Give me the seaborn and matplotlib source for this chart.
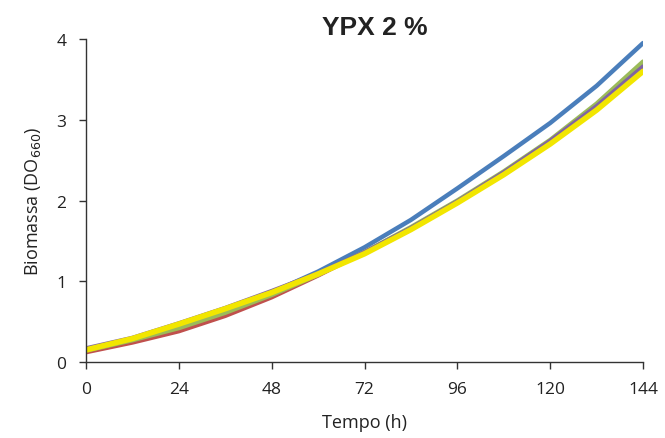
import matplotlib
matplotlib.use("Agg")
import matplotlib.pyplot as plt
import seaborn as sns
import pandas as pd

tempo = [0, 12, 24, 36, 48, 60, 72, 84, 96, 108, 120, 132, 144]
azul = [0.15, 0.28, 0.45, 0.64, 0.86, 1.12, 1.42, 1.76, 2.15, 2.55, 2.96, 3.42, 3.95]
vermelho = [0.12, 0.24, 0.38, 0.57, 0.80, 1.07, 1.36, 1.66, 1.99, 2.35, 2.74, 3.18, 3.66]
verde = [0.14, 0.27, 0.42, 0.61, 0.83, 1.08, 1.36, 1.67, 2.00, 2.36, 2.75, 3.20, 3.72]
roxo = [0.17, 0.30, 0.48, 0.67, 0.88, 1.10, 1.36, 1.66, 1.99, 2.35, 2.74, 3.17, 3.66]
amarelo = [0.15, 0.29, 0.47, 0.66, 0.86, 1.09, 1.34, 1.64, 1.97, 2.32, 2.70, 3.12, 3.60]

series = {"azul": azul, "vermelho": vermelho, "verde": verde, "roxo": roxo, "amarelo": amarelo}
cores = {"azul": "#4A7EBB", "vermelho": "#C0504D", "verde": "#9BBB59", "roxo": "#8064A2", "amarelo": "#F2E600"}
larguras = {"azul": 3.2, "vermelho": 3.0, "verde": 3.2, "roxo": 3.0, "amarelo": 4.0}

rows = []
for nome, vals in series.items():
    for t, v in zip(tempo, vals):
        rows.append({"Tempo": t, "DO": v, "serie": nome})
df = pd.DataFrame(rows)

sns.set_style("ticks")
plt.rcParams['font.family'] = ['Open Sans', 'DejaVu Sans']

fig = plt.figure(figsize=(6.65, 4.39), dpi=100)
ax = fig.add_axes([0.1293, 0.1731, 0.8377, 0.7358])

for nome in series:
    sub = df[df["serie"] == nome]
    sns.lineplot(data=sub, x="Tempo", y="DO", color=cores[nome], lw=larguras[nome],
                 ax=ax, legend=False, solid_capstyle="round")

ax.set_xlim(0, 144)
ax.set_ylim(0, 4)
ax.set_xticks([0, 24, 48, 72, 96, 120, 144])
ax.set_yticks([0, 1, 2, 3, 4])
ax.tick_params(axis="both", labelsize=12.5, direction="out", length=5, width=1,
               colors="#333333", labelcolor="#222222", pad=9)
for s in ["left", "bottom"]:
    ax.spines[s].set_color("#333333")
    ax.spines[s].set_linewidth(1.0)
sns.despine(ax=ax)
ax.set_xlabel("Tempo (h)", fontsize=13, color="#222222", labelpad=11)
ax.set_ylabel("Biomassa (DO$_{660}$)", fontsize=13, color="#222222", labelpad=10)
ax.set_title("YPX 2 %", fontsize=19, fontweight="bold", color="#222222", pad=2, x=0.518,
             family=["Liberation Sans", "DejaVu Sans"])

fig.savefig("out.png", dpi=100)
